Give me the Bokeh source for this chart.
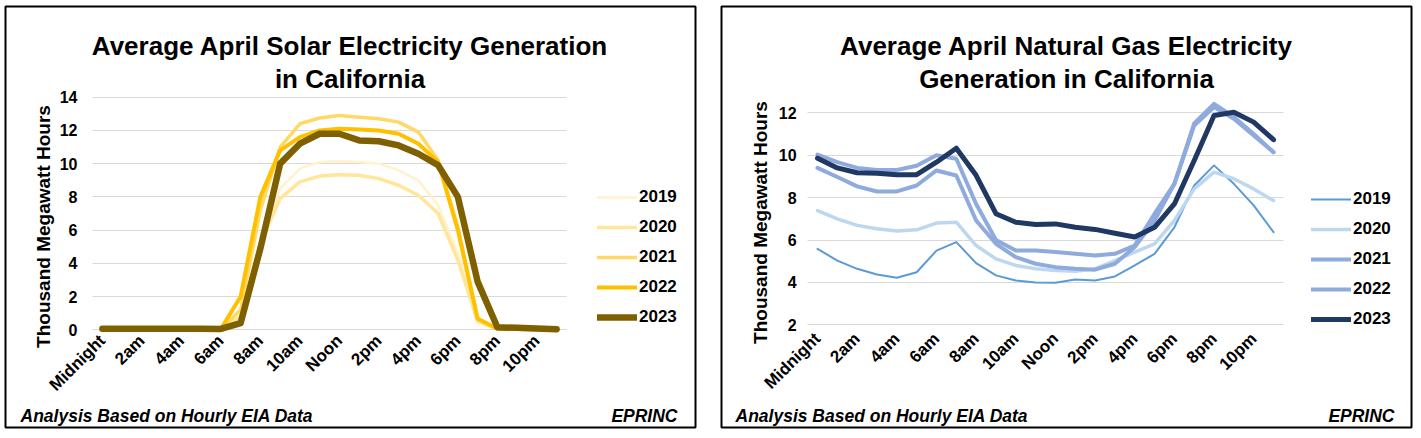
import math
from bokeh.plotting import figure
from bokeh.models import Range1d, FixedTicker, Legend, LegendItem, Label, BoxAnnotation, Grid
from bokeh.layouts import row
from bokeh.embed import file_html
from bokeh.resources import INLINE

FONT = "Liberation Sans"

# ---------------- data ----------------
hours = list(range(24))
tick_hours = list(range(0, 24, 2))
tick_labels = ["Midnight", "2am", "4am", "6am", "8am", "10am", "Noon",
               "2pm", "4pm", "6pm", "8pm", "10pm"]
years = ["2019", "2020", "2021", "2022", "2023"]

solar_2019 = [0.02, 0.02, 0.02, 0.02, 0.02, 0.02, 0.02, 0.6, 5.0, 8.5, 9.7, 10.1,
              10.15, 10.1, 10.0, 9.6, 9.0, 7.5, 4.6, 0.7, 0.05, 0.03, 0.02, 0.02]
solar_2020 = [0.02, 0.02, 0.02, 0.02, 0.02, 0.02, 0.02, 0.8, 5.2, 7.9, 8.9, 9.25,
              9.33, 9.3, 9.1, 8.7, 8.1, 7.0, 4.2, 0.5, 0.05, 0.03, 0.02, 0.02]
solar_2021 = [0.02, 0.02, 0.02, 0.02, 0.02, 0.02, 0.02, 1.2, 7.2, 11.0, 12.4, 12.75,
              12.9, 12.8, 12.7, 12.5, 11.9, 10.2, 6.2, 0.7, 0.05, 0.03, 0.02, 0.02]
solar_2022 = [0.02, 0.02, 0.02, 0.02, 0.02, 0.02, 0.05, 2.0, 8.0, 10.8, 11.6, 12.0,
              12.1, 12.05, 12.0, 11.8, 11.2, 10.1, 6.0, 0.66, 0.06, 0.05, 0.04, 0.03]
solar_2023 = [0.06, 0.06, 0.06, 0.06, 0.06, 0.06, 0.05, 0.4, 4.9, 10.0, 11.2, 11.8,
              11.8, 11.4, 11.35, 11.1, 10.6, 9.9, 8.0, 2.9, 0.15, 0.12, 0.08, 0.04]

gas_2019 = [5.58, 5.03, 4.64, 4.37, 4.22, 4.48, 5.5, 5.9, 4.91, 4.33, 4.09, 4.0,
            3.98, 4.14, 4.09, 4.28, 4.8, 5.35, 6.6, 8.57, 9.52, 8.65, 7.63, 6.37]
gas_2020 = [7.39, 7.0, 6.69, 6.53, 6.42, 6.48, 6.8, 6.84, 5.74, 5.11, 4.8, 4.64,
            4.56, 4.53, 4.64, 5.03, 5.43, 5.82, 6.92, 8.41, 9.2, 8.89, 8.41, 7.86]
gas_2021 = [10.03, 9.67, 9.4, 9.3, 9.3, 9.5, 10.0, 9.83, 7.7, 6.0, 5.5, 5.5,
            5.43, 5.35, 5.27, 5.35, 5.74, 7.24, 8.65, 11.5, 12.42, 11.8, 11.0, 10.14]
gas_2022 = [9.4, 8.97, 8.53, 8.29, 8.29, 8.57, 9.28, 9.04, 6.92, 5.82, 5.19, 4.88,
            4.72, 4.64, 4.6, 4.88, 5.67, 6.92, 8.65, 11.4, 12.27, 11.72, 10.93, 10.14]
gas_2023 = [9.86, 9.4, 9.17, 9.15, 9.08, 9.08, 9.67, 10.33, 9.05, 7.24, 6.84, 6.73,
            6.76, 6.6, 6.5, 6.32, 6.14, 6.6, 7.7, 9.75, 11.87, 12.03, 11.56, 10.73]

solar_ticks = [0, 2, 4, 6, 8, 10, 12, 14]
gas_ticks = [2, 4, 6, 8, 10, 12]

solar_colors = ["#FFF2CC", "#FFE699", "#FFD966", "#FFC000", "#7F6000"]
solar_widths = [2.5, 3.5, 3.5, 4, 6.5]
gas_colors = ["#5B9BD5", "#BDD7EE", "#8FAADC", "#8FAADC", "#203864"]
gas_widths = [2, 3.5, 4, 4, 5]

solar_title = ["Average April Solar Electricity Generation", "in California"]
gas_title = ["Average April Natural Gas Electricity", "Generation in California"]
y_title = "Thousand Megawatt Hours"
foot_left = "Analysis Based on Hourly EIA Data"
foot_right = "EPRINC"

H = 436


def build(cfg, series, colors, widths, title_lines, y_base, y_ticks):
    cx0, cw = cfg["canvas"]          # canvas left (page px) and width
    ax_px, ax_unit = cfg["xmap"]     # page px of x=-0.5, px per category
    ay_px, ay_unit = cfg["ymap"]     # page px of y=y_base, px per unit

    def to_data(px, py):
        return (-0.5 + (px - ax_px) / ax_unit, y_base + (ay_px - py) / ay_unit)

    x0, y_top = to_data(cx0, 0)
    x1, y_bot = to_data(cx0 + cw, H)
    p = figure(width=cw, height=H,
               x_range=Range1d(x0, x1), y_range=Range1d(y_bot, y_top),
               output_backend="svg", toolbar_location=None, min_border=0)
    p.min_border_left = p.min_border_right = 0
    p.min_border_top = p.min_border_bottom = 0
    p.title.visible = False
    p.outline_line_color = None
    p.background_fill_color = "white"
    p.border_fill_color = "white"

    # chart border
    bl, bt = to_data(cfg["box"][0], cfg["box"][1])
    br, bb = to_data(cfg["box"][2], cfg["box"][3])
    p.add_layout(BoxAnnotation(left=bl, right=br, top=bt, bottom=bb,
                               fill_alpha=0, line_color="black", line_alpha=1.0,
                               line_width=2))

    yt = FixedTicker(ticks=y_ticks)
    p.xgrid.visible = False
    g = p.ygrid[0]
    g.ticker = yt
    g.grid_line_color = "#D9D9D9"
    g.grid_line_width = 1
    if "cross_bounds" in Grid.properties():
        g.cross_bounds = (-0.5, 23.5)

    yax = p.yaxis[0]
    yax.fixed_location = -0.5
    yax.ticker = yt
    yax.axis_line_color = None
    yax.major_tick_line_color = None
    yax.minor_tick_line_color = None
    yax.major_tick_out = 0
    yax.major_tick_in = 0
    yax.major_label_standoff = cfg["ystand"]
    yax.major_label_text_font = FONT
    yax.major_label_text_font_size = "16px"
    yax.major_label_text_font_style = "bold"
    yax.major_label_text_color = "black"

    xax = p.xaxis[0]
    xax.fixed_location = y_base
    xax.ticker = FixedTicker(ticks=tick_hours)
    xax.major_label_overrides = {t: lab for t, lab in zip(tick_hours, tick_labels)}
    xax.axis_line_color = None
    xax.major_tick_line_color = None
    xax.minor_tick_line_color = None
    xax.major_tick_out = 0
    xax.major_tick_in = 0
    xax.major_label_standoff = cfg["xstand"]
    xax.major_label_orientation = math.pi / 4
    xax.major_label_text_font = FONT
    xax.major_label_text_font_size = "17px"
    xax.major_label_text_font_style = "bold"
    xax.major_label_text_color = "black"

    items = []
    for yr, vals, c, w in zip(years, series, colors, widths):
        r = p.line(hours, vals, line_color=c, line_width=w, line_join="round",
                   line_cap="round")
        items.append(LegendItem(label=yr, renderers=[r]))

    lx, lb = cfg["legend"]
    legend = Legend(items=items, location=(lx - cx0, H - lb),
                    orientation="vertical", glyph_width=40, glyph_height=20,
                    label_height=20, spacing=10, padding=0, margin=0,
                    label_standoff=2, border_line_color=None,
                    background_fill_alpha=0,
                    label_text_font=FONT, label_text_font_size="17px",
                    label_text_font_style="bold", label_text_color="black")
    p.add_layout(legend)

    tcx = cfg["title_cx"]
    for line, base in zip(title_lines, cfg["title_base"]):
        x, y = to_data(tcx, base)
        p.add_layout(Label(x=x, y=y, text=line, text_font=FONT,
                           text_font_size="26px", text_font_style="bold",
                           text_color="black", text_align="center",
                           text_baseline="alphabetic"))
    x, y = to_data(*cfg["ylab"])
    p.add_layout(Label(x=x, y=y, text=y_title, angle=math.pi / 2,
                       text_font=FONT, text_font_size="19px",
                       text_font_style="bold", text_color="black",
                       text_align="center", text_baseline="middle"))
    fxl, fxr, fy = cfg["foot"]
    x, y = to_data(fxl, fy)
    p.add_layout(Label(x=x, y=y, text=foot_left, text_font=FONT,
                       text_font_size="17.5px", text_font_style="bold italic",
                       text_color="black", text_align="left",
                       text_baseline="alphabetic"))
    x, y = to_data(fxr, fy)
    p.add_layout(Label(x=x, y=y, text=foot_right, text_font=FONT,
                       text_font_size="17.5px", text_font_style="bold italic",
                       text_color="black", text_align="right",
                       text_baseline="alphabetic"))
    return p


left_cfg = dict(canvas=(0, 708), xmap=(92, 19.75), ymap=(329.3, 16.614),
                box=(5, 6, 695, 427), ystand=15, xstand=8,
                legend=(597, 326.5), title_cx=349.5, title_base=(45.7, 78.3),
                ylab=(42.5, 226), foot=(20, 677, 415))
right_cfg = dict(canvas=(708, 711), xmap=(807.1, 19.826), ymap=(324.3, 21.2),
                 box=(721, 6, 1411, 427), ystand=11, xstand=11,
                 legend=(1311, 329), title_cx=1066, title_base=(45.7, 78.3),
                 ylab=(759.5, 222), foot=(735, 1394, 415))

p1 = build(left_cfg, [solar_2019, solar_2020, solar_2021, solar_2022, solar_2023],
           solar_colors, solar_widths, solar_title, 0, solar_ticks)
p2 = build(right_cfg, [gas_2019, gas_2020, gas_2021, gas_2022, gas_2023],
           gas_colors, gas_widths, gas_title, 2, gas_ticks)

layout = row(p1, p2)
open("out.html", "w").write(file_html(layout, INLINE))
